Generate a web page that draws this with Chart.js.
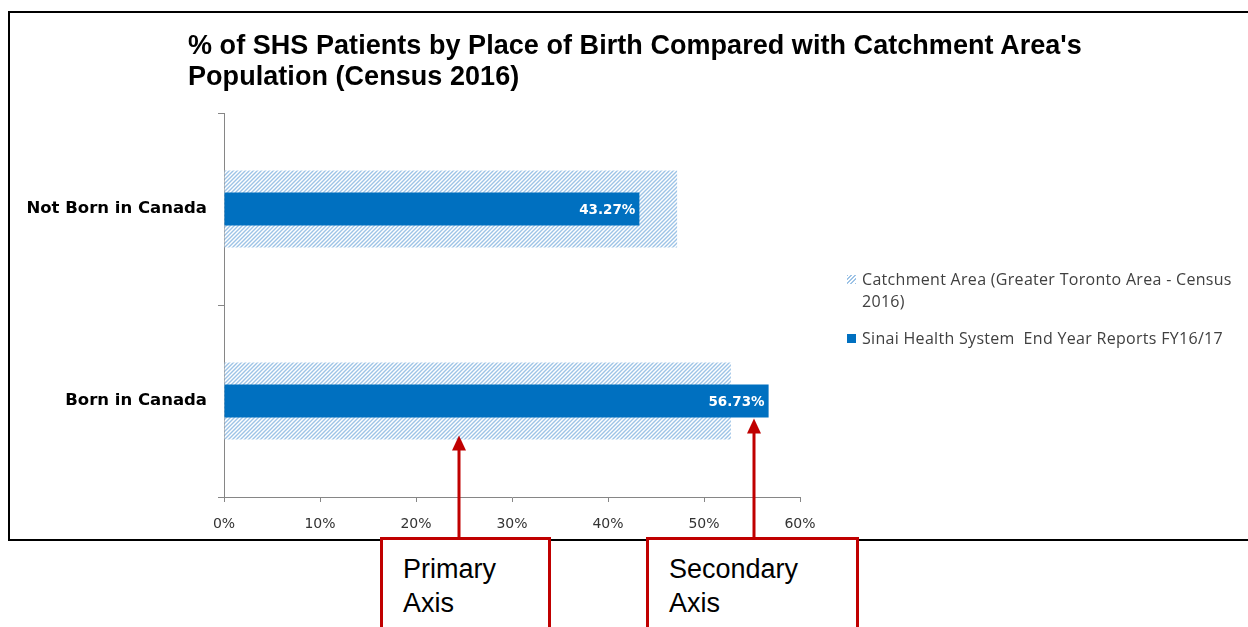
<!DOCTYPE html>
<html>
<head>
<meta charset="utf-8">
<script src="https://cdn.jsdelivr.net/npm/chart.js@4/dist/chart.umd.min.js"></script>
<style>
    html, body { margin: 0; padding: 0; background: #fff; }
    #wrap { position: relative; width: 1248px; height: 627px; overflow: hidden; }
    #frame { position: absolute; left: 8px; top: 11px; width: 1260px; height: 526px; border: 2px solid #000; border-right: none; }
    #chart { position: absolute; left: 0; top: 0; }
    #title { position: absolute; left: 188px; top: 30px; font: bold 27px 'Liberation Sans', Arial, sans-serif; line-height: 31px; color: #000; letter-spacing: 0.05px; }
    #legend { position: absolute; left: 845px; top: 268px; font: 16px 'Open Sans', sans-serif; color: #404040; letter-spacing: 0.3px; }
    .item { position: relative; padding-left: 17px; line-height: 22px; width: 386px; white-space: pre-wrap; }
    .item + .item { margin-top: 15px; }
    .swatch { position: absolute; left: 2px; top: 7px; width: 9px; height: 9px; }
    .note { position: absolute; top: 537px; height: 110px; border: 3px solid #c00000; background: #fff;
            font: 27px 'Liberation Sans', Arial, sans-serif; line-height: 34px; color: #000; box-sizing: border-box; padding: 12px 0 0 20px; }
</style>
</head>
<body>
<div id="wrap">
    <div id="frame"></div>
    <canvas id="chart" width="1248" height="627"></canvas>
    <div id="title">% of SHS Patients by Place of Birth Compared with Catchment Area's<br>Population (Census 2016)</div>
    <div id="legend"></div>
    <div class="note" style="left:380px; width:171px;">Primary<br>Axis</div>
    <div class="note" style="left:646px; width:213px;">Secondary<br>Axis</div>
</div>
<script>
const categories = ['Not Born in Canada', 'Born in Canada'];
const catchmentValues = [47.2, 52.8];
const sinaiValues = [43.27, 56.73];
const seriesNames = ['Catchment Area (Greater Toronto Area - Census 2016)', 'Sinai Health System  End Year Reports FY16/17'];
const xTicks = [0, 10, 20, 30, 40, 50, 60];
// where the red callout arrows point, in axis units
const arrowValues = [24.5, 55.2];

const BLUE = '#0070c0';
const HATCH = '#9dc3e6';

function makeHatch() {
    const c = document.createElement('canvas');
    c.width = 4; c.height = 4;
    const g = c.getContext('2d');
    g.fillStyle = '#fff';
    g.fillRect(0, 0, 4, 4);
    g.strokeStyle = HATCH;
    g.lineWidth = 1.4;
    g.beginPath();
    g.moveTo(-1, 5); g.lineTo(5, -1);
    g.moveTo(-1, 1); g.lineTo(1, -1);
    g.moveTo(3, 5); g.lineTo(5, 3);
    g.stroke();
    return c;
}

const canvas = document.getElementById('chart');
const ctx = canvas.getContext('2d');
const hatch = ctx.createPattern(makeHatch(), 'repeat');

// legend in html so the first entry can wrap like the original
const legend = document.getElementById('legend');
seriesNames.forEach((name, i) => {
    const item = document.createElement('div');
    item.className = 'item';
    const sw = document.createElement('span');
    sw.className = 'swatch';
    sw.style.background = i === 0
        ? `repeating-linear-gradient(-45deg, ${HATCH} 0 1.4px, #fff 1.4px 3px)`
        : BLUE;
    item.appendChild(sw);
    item.appendChild(document.createTextNode(name));
    legend.appendChild(item);
});

const valueLabels = {
    id: 'valueLabels',
    afterDatasetsDraw(chart) {
        const meta = chart.getDatasetMeta(1);
        const c = chart.ctx;
        c.save();
        c.font = "bold 13.5px 'DejaVu Sans', sans-serif";
        c.fillStyle = '#fff';
        c.textAlign = 'right';
        c.textBaseline = 'middle';
        meta.data.forEach((bar, i) => {
            c.fillText(sinaiValues[i].toFixed(2) + '%', bar.x - 4, bar.y + 1);
        });
        c.restore();
    }
};

const arrows = {
    id: 'arrows',
    afterDraw(chart) {
        const x = chart.scales.x;
        const last = categories.length - 1;
        const tips = [
            chart.getDatasetMeta(0).data[last],
            chart.getDatasetMeta(1).data[last]
        ].map((bar, i) => bar.y + bar.height / 2 + (i === 0 ? -4 : 1));
        const c = chart.ctx;
        c.save();
        c.strokeStyle = '#c00000';
        c.fillStyle = '#c00000';
        c.lineWidth = 3;
        arrowValues.forEach((v, i) => {
            const px = Math.round(x.getPixelForValue(v));
            const tip = tips[i];
            c.beginPath();
            c.moveTo(px, 538);
            c.lineTo(px, tip + 12);
            c.stroke();
            c.beginPath();
            c.moveTo(px, tip);
            c.lineTo(px - 7, tip + 15);
            c.lineTo(px + 7, tip + 15);
            c.closePath();
            c.fill();
        });
        c.restore();
    }
};

new Chart(ctx, {
    type: 'bar',
    data: {
        labels: categories,
        datasets: [
            {
                label: seriesNames[0],
                data: catchmentValues,
                backgroundColor: hatch,
                grouped: false,
                barPercentage: 0.4,
                categoryPercentage: 1,
                order: 2
            },
            {
                label: seriesNames[1],
                data: sinaiValues,
                backgroundColor: BLUE,
                grouped: false,
                barPercentage: 0.172,
                categoryPercentage: 1,
                order: 1
            }
        ]
    },
    options: {
        indexAxis: 'y',
        responsive: false,
        animation: false,
        layout: { padding: { top: 113, right: 448, left: 0, bottom: 0 } },
        plugins: {
            legend: { display: false },
            title: { display: false },
            tooltip: { enabled: false }
        },
        scales: {
            x: {
                min: 0,
                max: 60,
                afterBuildTicks(scale) {
                    scale.ticks = xTicks.map(v => ({ value: v }));
                },
                afterFit(scale) { scale.height = 130; },
                grid: { drawOnChartArea: false, drawTicks: true, tickLength: 5, color: '#868686' },
                border: { display: true, color: '#868686', width: 1 },
                ticks: {
                    padding: 14,
                    color: '#333',
                    font: { family: "'DejaVu Sans', sans-serif", size: 14 },
                    callback: v => v + '%'
                }
            },
            y: {
                afterFit(scale) { scale.width = 224; },
                grid: { drawOnChartArea: false, drawTicks: true, tickLength: 6, color: '#868686', offset: true },
                border: { display: true, color: '#868686', width: 1 },
                ticks: {
                    padding: 11,
                    color: '#000',
                    font: { family: "'DejaVu Sans', sans-serif", size: 16.5, weight: 'bold' }
                }
            }
        }
    },
    plugins: [valueLabels, arrows]
});
</script>
</body>
</html>
